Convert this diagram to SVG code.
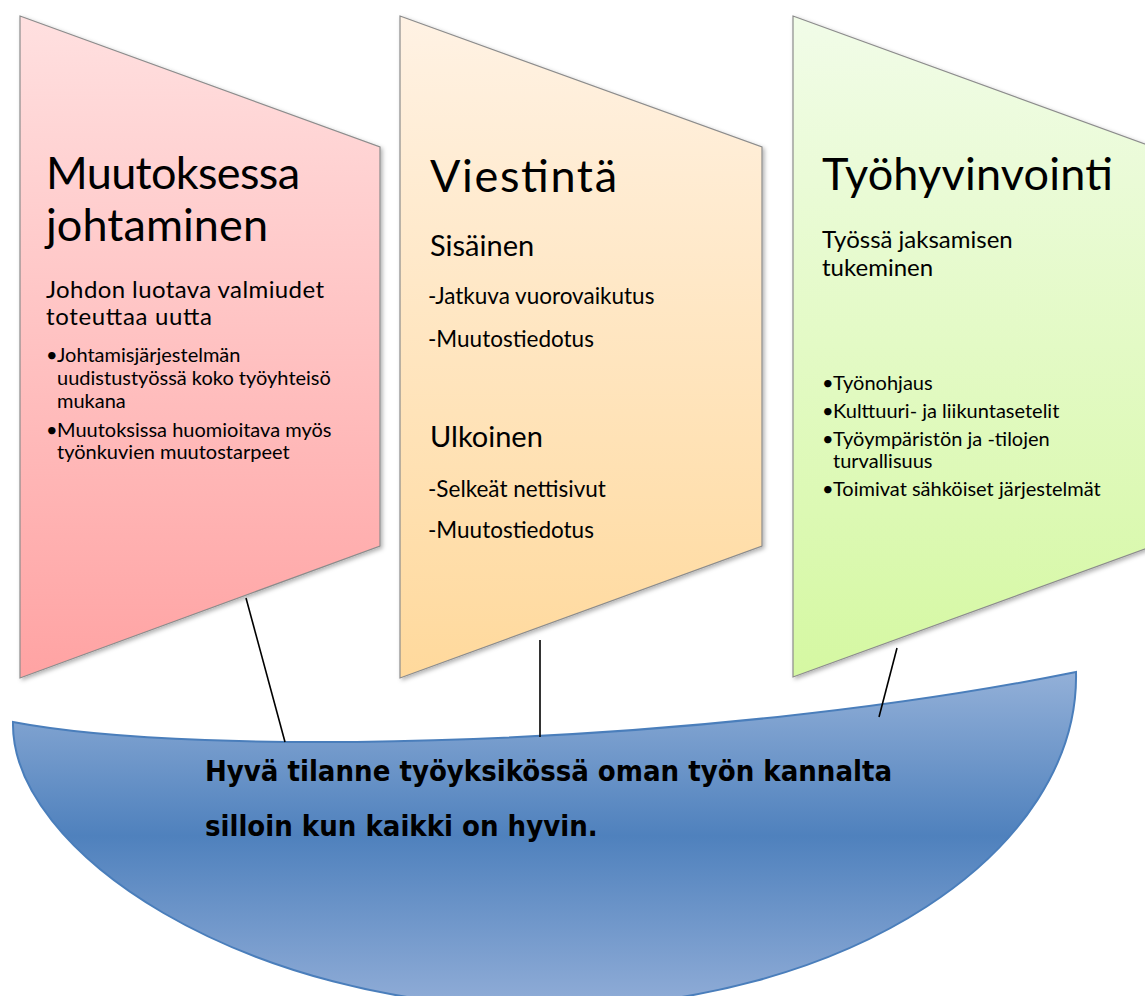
<svg xmlns="http://www.w3.org/2000/svg" width="1145" height="996" viewBox="0 0 1145 996">
<style>
.sail{stroke:#8c8c8c;stroke-width:1.2;filter:url(#sh)}
.t{font-family:Lato,"Open Sans",sans-serif;fill:#000}
.h{font-size:45px}
.s{font-size:24px}
.m{font-size:29px}
.d{font-size:22.5px}
.b{font-size:20px}
.conn line{stroke:#000;stroke-width:1.6}
.hull{font-family:"DejaVu Sans Condensed","DejaVu Sans",sans-serif;font-stretch:condensed;font-weight:bold;font-size:29px;fill:#000}
</style>
<defs>
<filter id="sh" x="-10%" y="-10%" width="130%" height="130%">
<feDropShadow dx="2" dy="2" stdDeviation="2" flood-color="#000" flood-opacity="0.3"/>
</filter>
<linearGradient id="gp" x1="0" y1="0" x2="0" y2="1"><stop offset="0" stop-color="#ffe0e0"/><stop offset="1" stop-color="#ffa3a3"/></linearGradient>
<linearGradient id="go" x1="0" y1="0" x2="0" y2="1"><stop offset="0" stop-color="#fff2e4"/><stop offset="1" stop-color="#ffd99c"/></linearGradient>
<linearGradient id="gg" x1="0" y1="0" x2="0" y2="1"><stop offset="0" stop-color="#f1fce8"/><stop offset="1" stop-color="#d5f8a2"/></linearGradient>
<linearGradient id="gb" gradientUnits="userSpaceOnUse" x1="0" y1="672" x2="0" y2="1000"><stop offset="0" stop-color="#93b0d8"/><stop offset="0.5" stop-color="#4f81bd"/><stop offset="1" stop-color="#8eabd6"/></linearGradient>
</defs>

<g id="sail-johtaminen">
<polygon class="sail" points="20,16 380,147 380,546 20,678" fill="url(#gp)"/>
<text class="t h"><tspan x="46" y="189" textLength="254">Muutoksessa</tspan><tspan x="46" y="241" textLength="222">johtaminen</tspan></text>
<text class="t s"><tspan x="46" y="298" textLength="278">Johdon luotava valmiudet</tspan><tspan x="46" y="325" textLength="166">toteuttaa uutta</tspan></text>
<text class="t b"><tspan x="46" y="362">•</tspan><tspan x="57" y="362">Johtamisjärjestelmän</tspan><tspan x="57" y="385">uudistustyössä koko työyhteisö</tspan><tspan x="57" y="408">mukana</tspan></text>
<text class="t b"><tspan x="46" y="437">•</tspan><tspan x="57" y="437">Muutoksissa huomioitava myös</tspan><tspan x="57" y="459">työnkuvien muutostarpeet</tspan></text>
</g>

<g id="sail-viestinta">
<polygon class="sail" points="400,16 762,147 762,546 400,678" fill="url(#go)"/>
<text class="t h" x="430" y="192" textLength="187">Viestintä</text>
<text class="t m" x="430" y="256">Sisäinen</text>
<text class="t d" x="428" y="304">-Jatkuva vuorovaikutus</text>
<text class="t d" x="428" y="347">-Muutostiedotus</text>
<text class="t m" x="430" y="447">Ulkoinen</text>
<text class="t d" x="428" y="497">-Selkeät nettisivut</text>
<text class="t d" x="428" y="538">-Muutostiedotus</text>
</g>

<g id="sail-tyohyvinvointi">
<polygon class="sail" points="793,16 1153,147 1153,546 793,677" fill="url(#gg)"/>
<text class="t h" x="822" y="190" textLength="291">Työhyvinvointi</text>
<text class="t s"><tspan x="822" y="248">Työssä jaksamisen</tspan><tspan x="822" y="276">tukeminen</tspan></text>
<text class="t b"><tspan x="822" y="390">•</tspan><tspan x="833" y="390">Työnohjaus</tspan></text>
<text class="t b"><tspan x="822" y="418">•</tspan><tspan x="833" y="418">Kulttuuri- ja liikuntasetelit</tspan></text>
<text class="t b"><tspan x="822" y="446">•</tspan><tspan x="833" y="446">Työympäristön ja -tilojen</tspan><tspan x="833" y="468">turvallisuus</tspan></text>
<text class="t b"><tspan x="822" y="496">•</tspan><tspan x="833" y="496">Toimivat sähköiset järjestelmät</tspan></text>
</g>

<g id="hull">
<path d="M13,722 C200,758 700,748 1076,672 C1080,850 850,1008 545,1008 C240,1008 10,850 13,722 Z" fill="url(#gb)" stroke="#4a7ebb" stroke-width="2"/>
<text class="hull"><tspan x="205" y="781">Hyvä tilanne työyksikössä oman työn kannalta</tspan><tspan x="205" y="836">silloin kun kaikki on hyvin.</tspan></text>
</g>

<g id="connectors" class="conn">
<line x1="246" y1="598" x2="285" y2="742"/>
<line x1="540" y1="640" x2="540" y2="737"/>
<line x1="897" y1="648" x2="879" y2="717"/>
</g>
</svg>
